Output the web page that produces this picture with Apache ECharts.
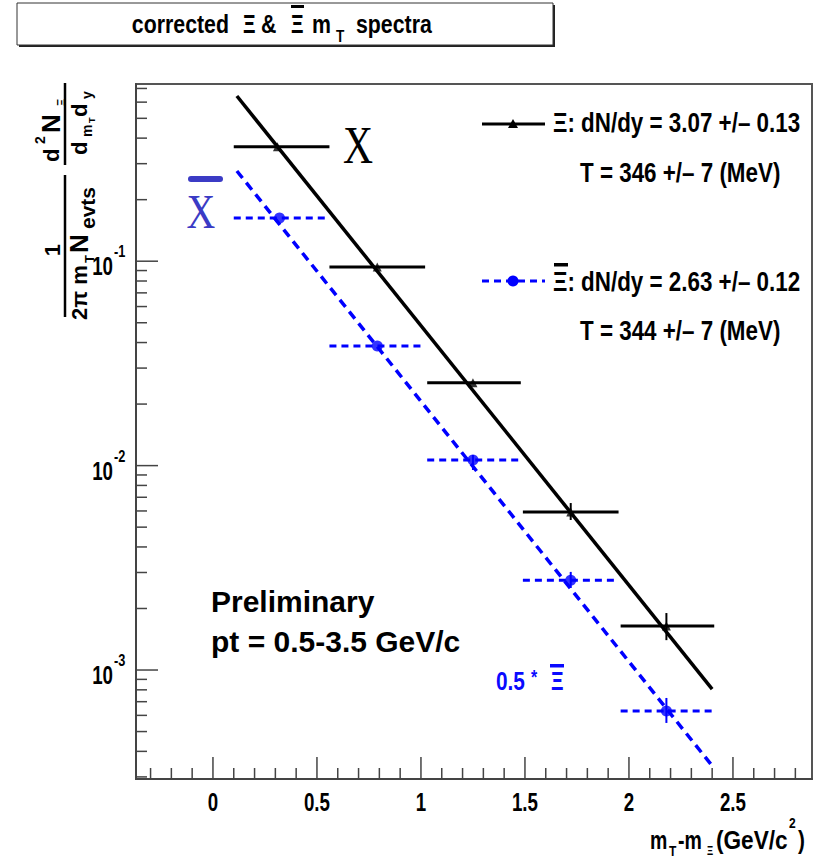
<!DOCTYPE html>
<html><head><meta charset="utf-8">
<script src="https://cdn.jsdelivr.net/npm/echarts@6/dist/echarts.min.js"></script>
<style>html,body{margin:0;padding:0;background:#fff}#c{width:818px;height:864px}</style>
</head><body><div id="c"></div>
<script>
// ---------- data ----------
const xiX      = [0.31, 0.79, 1.25, 1.72, 2.18];
const xiY      = [0.363, 0.0937, 0.0254, 0.00593, 0.00164];
const xiXLow   = [0.10, 0.56, 1.03, 1.49, 1.96];
const xiXHigh  = [0.56, 1.02, 1.48, 1.95, 2.41];
const xiYLow   = [0.363, 0.0937, 0.0254, 0.00542, 0.00140];
const xiYHigh  = [0.363, 0.0937, 0.0254, 0.00656, 0.00190];

const axiX     = [0.32, 0.79, 1.25, 1.72, 2.18];
const axiY     = [0.1627, 0.0385, 0.01065, 0.00275, 0.000631];
const axiXLow  = [0.10, 0.56, 1.03, 1.49, 1.96];
const axiXHigh = [0.55, 1.02, 1.48, 1.95, 2.41];
const axiYLow  = [0.1627, 0.0385, 0.00952, 0.00252, 0.000551];
const axiYHigh = [0.1627, 0.0385, 0.01127, 0.00302, 0.000730];

const xiFitX   = [0.115, 2.40];
const xiFitY   = [0.643, 0.000807];
const axiFitX  = [0.115, 2.405];
const axiFitY  = [0.2763, 0.000335];

const xTickValues = [0, 0.5, 1, 1.5, 2, 2.5];
const xTickLabels = ['0', '0.5', '1', '1.5', '2', '2.5'];
const xMinorTicks = [-0.3,-0.2,-0.1,0.1,0.2,0.3,0.4,0.6,0.7,0.8,0.9,1.1,1.2,1.3,1.4,1.6,1.7,1.8,1.9,2.1,2.2,2.3,2.4,2.6,2.7,2.8];
const yTickValues = [0.001, 0.01, 0.1];
const yTickExponents = ['-3', '-2', '-1'];
const yMinorTicks = [3e-4,4e-4,5e-4,6e-4,7e-4,8e-4,9e-4,
  2e-3,3e-3,4e-3,5e-3,6e-3,7e-3,8e-3,9e-3,
  2e-2,3e-2,4e-2,5e-2,6e-2,7e-2,8e-2,9e-2,
  0.2,0.3,0.4,0.5,0.6,0.7];

const X_MIN = -0.37, X_MAX = 2.88, Y_MIN = 2.93e-4, Y_MAX = 0.736;

// ---------- helpers ----------
const SANS = '"Liberation Sans", Arial, Helvetica, sans-serif';
const SERIF = '"Liberation Serif", "Times New Roman", serif';
function T(text, x, y, o) {
  o = o || {};
  const al = o.align || 'left', va = o.va || 'middle';
  return {type: 'text', x: x, y: y, scaleX: o.sx || 1, z: 100,
    style: {text: text, x: 0, y: 0, fill: o.color || '#000',
      font: (o.weight || 'bold') + ' ' + (o.size || 26) + 'px ' + (o.family || SANS),
      textAlign: al, textVerticalAlign: va, align: al, verticalAlign: va}};
}
function L(x1, y1, x2, y2, color, w, dash) {
  const st = {stroke: color, lineWidth: w};
  if (dash) st.lineDash = dash;
  return {type: 'line', z: 100, shape: {x1: x1, y1: y1, x2: x2, y2: y2}, style: st};
}
function BAR(x, y, w, h, color) {
  return {type: 'rect', z: 100, shape: {x: x, y: y, width: w, height: h}, style: {fill: color || '#000'}};
}
function errRender(color, dash) {
  return function (params, api) {
    const l = api.coord([api.value(2), api.value(1)]);
    const r = api.coord([api.value(3), api.value(1)]);
    const lo = api.coord([api.value(0), api.value(4)]);
    const hi = api.coord([api.value(0), api.value(5)]);
    const hs = {stroke: color, lineWidth: 3};
    if (dash) hs.lineDash = dash;
    return {type: 'group', children: [
      {type: 'line', shape: {x1: l[0], y1: l[1], x2: r[0], y2: r[1]}, style: hs},
      {type: 'line', shape: {x1: lo[0], y1: lo[1], x2: hi[0], y2: hi[1]}, style: {stroke: color, lineWidth: 2}}
    ]};
  };
}

const chart = echarts.init(document.getElementById('c'), null, {renderer: 'svg'});

const yTitle = {type: 'group', x: 65, y: 320, rotation: Math.PI / 2, children: [
  L(3, 0, 145, 0, '#000', 2.5),
  T('1', 70, -13, {size: 22, align: 'center'}),
  T('2\u03c0 m', 0, 14, {size: 22}),
  T('T', 57, 24, {size: 13}),
  T('N', 67, 14, {size: 26}),
  T('evts', 91, 22, {size: 21}),
  L(155, 0, 237, 0, '#000', 2.5),
  T('d', 158, -14, {size: 22}),
  T('2', 176, -25, {size: 14}),
  T('N', 187, -14, {size: 26}),
  T('\u039e', 214, -4, {size: 11}),
  T('d', 165, 14, {size: 22}),
  T('m', 183, 22, {size: 14}),
  T('T', 197, 27, {size: 9}),
  T('d', 203, 14, {size: 22}),
  T('y', 221, 22, {size: 14})
]};

const graphics = [
  // title box
  {type: 'rect', z: 90, shape: {x: 19, y: 5, width: 536, height: 42}, style: {fill: '#222'}},
  {type: 'rect', z: 91, shape: {x: 17, y: 3, width: 536, height: 42}, style: {fill: '#fff', stroke: '#333', lineWidth: 1}},
  T('corrected', 229, 24, {size: 26, sx: 0.82, align: 'right'}),
  T('\u039e', 243, 24, {size: 26, sx: 0.75}),
  T('&', 261, 24, {size: 26, sx: 0.82}),
  T('\u039e', 291, 24, {size: 26, sx: 0.75}),
  BAR(291, 5, 13, 3),
  T('m', 312, 24, {size: 26, sx: 0.82}),
  T('T', 336, 37, {size: 16, sx: 0.85}),
  T('spectra', 356, 24, {size: 26, sx: 0.82}),
  // y-axis title
  yTitle,
  // legend
  L(482, 124, 545, 124, '#000', 3),
  {type: 'polygon', z: 101, shape: {points: [[508, 128], [518, 128], [513, 119]]}, style: {fill: '#000'}},
  T('\u039e: dN/dy = 3.07 +/\u2013 0.13', 553, 122, {size: 28, sx: 0.8}),
  T('T = 346 +/\u2013 7 (MeV)', 580, 172, {size: 28, sx: 0.8}),
  L(482, 281, 545, 281, '#0000ff', 3, [7, 5]),
  {type: 'circle', z: 101, shape: {cx: 513, cy: 281, r: 5.5}, style: {fill: '#0000ff'}},
  T('\u039e: dN/dy = 2.63 +/\u2013 0.12', 553, 281, {size: 28, sx: 0.8}),
  BAR(554, 263, 14, 3.5),
  T('T = 344 +/\u2013 7 (MeV)', 580, 330, {size: 28, sx: 0.8}),
  // annotations
  T('X', 358, 145, {size: 52, sx: 0.8, family: SERIF, weight: 'normal', align: 'center'}),
  T('X', 201, 212, {size: 48, sx: 0.83, family: SERIF, weight: 'normal', align: 'center', color: '#3b3bc5'}),
  {type: 'rect', z: 100, shape: {x: 188, y: 176, width: 35, height: 6, r: 3}, style: {fill: '#3b3bc5'}},
  T('Preliminary', 211, 601, {size: 30}),
  T('pt = 0.5-3.5 GeV/c', 211, 641, {size: 30}),
  T('0.5', 496, 681, {size: 26, sx: 0.8, color: '#0a0aff'}),
  T('*', 531, 677, {size: 20, sx: 0.8, color: '#0a0aff'}),
  T('\u039e', 551, 681, {size: 26, sx: 0.75, color: '#0a0aff'}),
  BAR(550, 664, 14, 3.5, '#0a0aff'),
  // x-axis title
  T('m', 650, 840, {size: 26, sx: 0.75}),
  T('T', 669, 851, {size: 15, sx: 0.8}),
  T('-m', 678, 840, {size: 26, sx: 0.75}),
  T('\u039e', 707, 851, {size: 12, sx: 0.8}),
  T('(GeV/c', 716, 840, {size: 26, sx: 0.87}),
  T('2', 789, 823, {size: 15, sx: 0.8}),
  T(')', 798, 840, {size: 26, sx: 0.8})
];

const option = {
  animation: false,
  backgroundColor: '#fff',
  grid: {left: 136, top: 84, width: 676, height: 695, show: true, borderColor: '#555', borderWidth: 2, backgroundColor: 'transparent'},
  xAxis: {type: 'value', min: X_MIN, max: X_MAX, axisLabel: {show: false}, axisTick: {show: false}, splitLine: {show: false},
    axisLine: {show: true, onZero: false, lineStyle: {color: '#444', width: 2}}},
  yAxis: {type: 'log', logBase: 10, min: Y_MIN, max: Y_MAX, axisLabel: {show: false}, axisTick: {show: false}, splitLine: {show: false}, minorTick: {show: false},
    axisLine: {show: true, onZero: false, lineStyle: {color: '#444', width: 2}}},
  graphic: graphics,
  series: [
    {name: 'fit Xi', type: 'line', data: xiFitX.map((x, i) => [x, xiFitY[i]]), symbol: 'none', z: 3,
      lineStyle: {color: '#000', width: 3.5}, silent: true},
    {name: 'fit antiXi', type: 'line', data: axiFitX.map((x, i) => [x, axiFitY[i]]), symbol: 'none', z: 3,
      lineStyle: {color: '#0000ff', width: 3.5, type: [9, 6]}, silent: true},
    {name: 'Xi err', type: 'custom', z: 4, encode: {x: 0, y: 1}, renderItem: errRender('#000', null),
      data: xiX.map((x, i) => [x, xiY[i], xiXLow[i], xiXHigh[i], xiYLow[i], xiYHigh[i]])},
    {name: 'antiXi err', type: 'custom', z: 4, encode: {x: 0, y: 1}, renderItem: errRender('#0000ff', [7, 5]),
      data: axiX.map((x, i) => [x, axiY[i], axiXLow[i], axiXHigh[i], axiYLow[i], axiYHigh[i]])},
    {name: 'Xi', type: 'scatter', z: 5, symbol: 'triangle', symbolSize: 9, itemStyle: {color: '#000'},
      data: xiX.map((x, i) => [x, xiY[i]])},
    {name: 'antiXi', type: 'scatter', z: 5, symbol: 'circle', symbolSize: 11, itemStyle: {color: '#0000ff'},
      data: axiX.map((x, i) => [x, axiY[i]])},
    // axis ticks
    {name: 'xticks', type: 'custom', z: 6, silent: true, encode: {x: 0, y: 1},
      data: xTickValues.map(v => [v, Y_MIN, 22]).concat(xMinorTicks.map(v => [v, Y_MIN, 11])),
      renderItem: (p, api) => { const c = api.coord([api.value(0), Y_MIN]);
        return {type: 'line', shape: {x1: c[0], y1: c[1], x2: c[0], y2: c[1] - api.value(2)}, style: {stroke: '#444', lineWidth: 1.5}}; }},
    {name: 'yticks', type: 'custom', z: 6, silent: true, encode: {x: 0, y: 1},
      data: yTickValues.map(v => [X_MIN, v, 22]).concat(yMinorTicks.map(v => [X_MIN, v, 11])),
      renderItem: (p, api) => { const c = api.coord([X_MIN, api.value(1)]);
        return {type: 'line', shape: {x1: c[0], y1: c[1], x2: c[0] + api.value(2), y2: c[1]}, style: {stroke: '#444', lineWidth: 1.5}}; }},
    // tick labels
    {name: 'xlabels', type: 'custom', z: 6, silent: true, encode: {x: 0, y: 1},
      data: xTickValues.map(v => [v, Y_MIN]),
      renderItem: (p, api) => { const c = api.coord([api.value(0), Y_MIN]);
        return T(xTickLabels[p.dataIndex], c[0], c[1] + 23, {size: 26, sx: 0.72, align: 'center'}); }},
    {name: 'ylabels', type: 'custom', z: 6, silent: true, encode: {x: 0, y: 1},
      data: yTickValues.map(v => [X_MIN, v]),
      renderItem: (p, api) => { const c = api.coord([X_MIN, api.value(1)]);
        return {type: 'group', children: [
          T('10', c[0] - 23, c[1] + 5, {size: 26, sx: 0.72, align: 'right'}),
          T(yTickExponents[p.dataIndex], c[0] - 22, c[1] - 10, {size: 17, sx: 0.75})
        ]}; }}
  ]
};
chart.setOption(option);
</script></body></html>
